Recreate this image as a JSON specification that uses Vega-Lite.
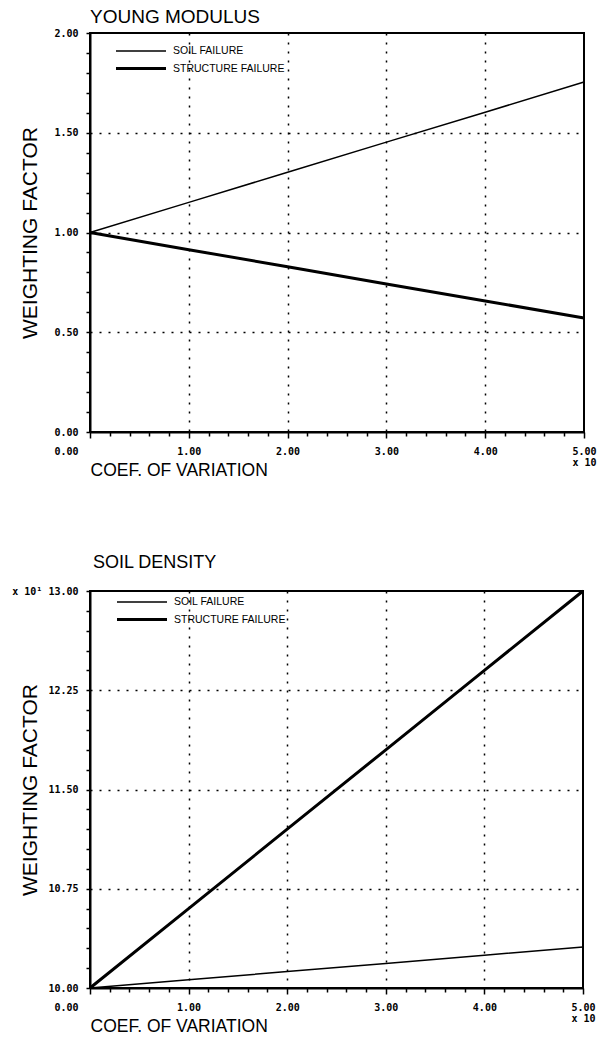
{
  "$schema": "https://vega.github.io/schema/vega-lite/v6.json",
  "background": "white",
  "padding": {"left": 10, "top": 7, "right": 8, "bottom": 5},
  "spacing": 73,
  "resolve": {"legend": {"strokeWidth": "independent"}, "scale": {"strokeWidth": "independent"}},
  "config": {
    "view": {"stroke": "black", "strokeWidth": 2},
    "axis": {
      "domainColor": "black", "domainWidth": 2,
      "tickColor": "black", "tickWidth": 1.5,
      "labelFont": "DejaVu Sans Mono", "labelFontWeight": "bold", "labelFontSize": 10, "labelColor": "black",
      "titleFont": "Liberation Sans", "titleFontWeight": "normal", "titleFontSize": 17.5, "titleColor": "black",
      "gridColor": "black", "gridDash": [2, 7], "gridWidth": 1.5,
      "labelOverlap": false, "labelBound": false, "labelFlush": false
    },
    "axisY": {"titleFontSize": 21, "titlePadding": 8, "minExtent": 42, "maxExtent": 42},
    "title": {"font": "Liberation Sans", "fontSize": 19, "fontWeight": "normal", "anchor": "start", "color": "black", "frame": "group"},
    "legend": {
      "title": null, "orient": "none", "symbolType": "M-5,0L5,0", "symbolSize": 100,
      "symbolStrokeColor": "black", "labelFont": "Liberation Sans", "labelFontSize": 10.5,
      "labelColor": "black", "rowPadding": 5, "labelOffset": 25.5, "padding": 0
    }
  },
  "vconcat": [
    {
      "title": {"text": "YOUNG MODULUS", "offset": 1},
      "width": 494,
      "height": 399,
      "data": {"values": [
        {"cov": 0, "wf": 1.0, "series": "SOIL FAILURE"},
        {"cov": 1, "wf": 1.151, "series": "SOIL FAILURE"},
        {"cov": 2, "wf": 1.302, "series": "SOIL FAILURE"},
        {"cov": 3, "wf": 1.453, "series": "SOIL FAILURE"},
        {"cov": 4, "wf": 1.603, "series": "SOIL FAILURE"},
        {"cov": 5, "wf": 1.754, "series": "SOIL FAILURE"},
        {"cov": 0, "wf": 1.0, "series": "STRUCTURE FAILURE"},
        {"cov": 1, "wf": 0.914, "series": "STRUCTURE FAILURE"},
        {"cov": 2, "wf": 0.828, "series": "STRUCTURE FAILURE"},
        {"cov": 3, "wf": 0.742, "series": "STRUCTURE FAILURE"},
        {"cov": 4, "wf": 0.657, "series": "STRUCTURE FAILURE"},
        {"cov": 5, "wf": 0.571, "series": "STRUCTURE FAILURE"}
      ]},
      "mark": {"type": "line", "color": "black"},
      "encoding": {
        "x": {
          "field": "cov", "type": "quantitative",
          "scale": {"domain": [0, 5], "nice": false},
          "axis": {
            "title": "COEF. OF VARIATION", "titleAnchor": "start", "titleAlign": "left", "titlePadding": -6,
            "values": [0, 0.2, 0.4, 0.6, 0.8, 1, 1.2, 1.4, 1.6, 1.8, 2, 2.2, 2.4, 2.6, 2.8, 3, 3.2, 3.4, 3.6, 3.8, 4, 4.2, 4.4, 4.6, 4.8, 5],
            "labelExpr": "abs(datum.value - round(datum.value)) < 0.01 ? (datum.value > 4.99 ? ['5.00', 'x 10'] : format(datum.value, '.2f')) : ''",
            "labelPadding": 8,
            "labelLineHeight": 11,
            "labelAlign": {"condition": {"test": "datum.value < 0.01", "value": "right"}, "value": "center"},
            "labelOffset": {"condition": {"test": "datum.value < 0.01", "value": -12}, "value": 0},
            "tickSize": {"condition": {"test": "abs(datum.value - round(datum.value)) < 0.01", "value": 6}, "value": 4},
            "gridOpacity": {"condition": {"test": "abs(datum.value - round(datum.value)) < 0.01 && datum.value > 0.01 && datum.value < 4.99", "value": 1}, "value": 0}
          }
        },
        "y": {
          "field": "wf", "type": "quantitative",
          "scale": {"domain": [0, 2], "nice": false},
          "axis": {
            "title": "WEIGHTING FACTOR",
            "values": [0, 0.1, 0.2, 0.3, 0.4, 0.5, 0.6, 0.7, 0.8, 0.9, 1, 1.1, 1.2, 1.3, 1.4, 1.5, 1.6, 1.7, 1.8, 1.9, 2],
            "labelExpr": "abs(datum.value * 2 - round(datum.value * 2)) < 0.01 ? format(datum.value, '.2f') : ''",
            "labelPadding": 8,
            "tickSize": 4,
            "gridOpacity": {"condition": {"test": "abs(datum.value * 2 - round(datum.value * 2)) < 0.01 && datum.value > 0.01 && datum.value < 1.99", "value": 1}, "value": 0}
          }
        },
        "strokeWidth": {
          "field": "series", "type": "ordinal",
          "scale": {"domain": ["SOIL FAILURE", "STRUCTURE FAILURE"], "range": [1.5, 3]},
          "legend": {"legendX": 44.5, "legendY": 12}
        }
      }
    },
    {
      "title": {"text": "SOIL DENSITY", "offset": 13, "fontSize": 18, "dx": 3},
      "width": 493,
      "height": 397,
      "data": {"values": [
        {"cov": 0, "wf": 10.0, "series": "SOIL FAILURE"},
        {"cov": 1, "wf": 10.062, "series": "SOIL FAILURE"},
        {"cov": 2, "wf": 10.124, "series": "SOIL FAILURE"},
        {"cov": 3, "wf": 10.186, "series": "SOIL FAILURE"},
        {"cov": 4, "wf": 10.248, "series": "SOIL FAILURE"},
        {"cov": 5, "wf": 10.31, "series": "SOIL FAILURE"},
        {"cov": 0, "wf": 10.0, "series": "STRUCTURE FAILURE"},
        {"cov": 1, "wf": 10.6, "series": "STRUCTURE FAILURE"},
        {"cov": 2, "wf": 11.2, "series": "STRUCTURE FAILURE"},
        {"cov": 3, "wf": 11.8, "series": "STRUCTURE FAILURE"},
        {"cov": 4, "wf": 12.4, "series": "STRUCTURE FAILURE"},
        {"cov": 5, "wf": 13.0, "series": "STRUCTURE FAILURE"}
      ]},
      "mark": {"type": "line", "color": "black"},
      "encoding": {
        "x": {
          "field": "cov", "type": "quantitative",
          "scale": {"domain": [0, 5], "nice": false},
          "axis": {
            "title": "COEF. OF VARIATION", "titleAnchor": "start", "titleAlign": "left", "titlePadding": -6,
            "values": [0, 0.2, 0.4, 0.6, 0.8, 1, 1.2, 1.4, 1.6, 1.8, 2, 2.2, 2.4, 2.6, 2.8, 3, 3.2, 3.4, 3.6, 3.8, 4, 4.2, 4.4, 4.6, 4.8, 5],
            "labelExpr": "abs(datum.value - round(datum.value)) < 0.01 ? (datum.value > 4.99 ? ['5.00', 'x 10'] : format(datum.value, '.2f')) : ''",
            "labelPadding": 8,
            "labelLineHeight": 11,
            "labelAlign": {"condition": {"test": "datum.value < 0.01", "value": "right"}, "value": "center"},
            "labelOffset": {"condition": {"test": "datum.value < 0.01", "value": -12}, "value": 0},
            "tickSize": {"condition": {"test": "abs(datum.value - round(datum.value)) < 0.01", "value": 6}, "value": 4},
            "gridOpacity": {"condition": {"test": "abs(datum.value - round(datum.value)) < 0.01 && datum.value > 0.01 && datum.value < 4.99", "value": 1}, "value": 0}
          }
        },
        "y": {
          "field": "wf", "type": "quantitative",
          "scale": {"domain": [10, 13], "nice": false, "zero": false},
          "axis": {
            "title": "WEIGHTING FACTOR",
            "values": [10, 10.15, 10.3, 10.45, 10.6, 10.75, 10.9, 11.05, 11.2, 11.35, 11.5, 11.65, 11.8, 11.95, 12.1, 12.25, 12.4, 12.55, 12.7, 12.85, 13],
            "labelExpr": "abs((datum.value - 10) / 0.75 - round((datum.value - 10) / 0.75)) < 0.01 ? (datum.value > 12.99 ? 'x 10¹ 13.00' : format(datum.value, '.2f')) : ''",
            "labelPadding": 8,
            "tickSize": 4,
            "gridOpacity": {"condition": {"test": "abs((datum.value - 10) / 0.75 - round((datum.value - 10) / 0.75)) < 0.01 && datum.value > 10.01 && datum.value < 12.99", "value": 1}, "value": 0}
          }
        },
        "strokeWidth": {
          "field": "series", "type": "ordinal",
          "scale": {"domain": ["SOIL FAILURE", "STRUCTURE FAILURE"], "range": [1.5, 3]},
          "legend": {"legendX": 45.5, "legendY": 5}
        }
      }
    }
  ]
}
